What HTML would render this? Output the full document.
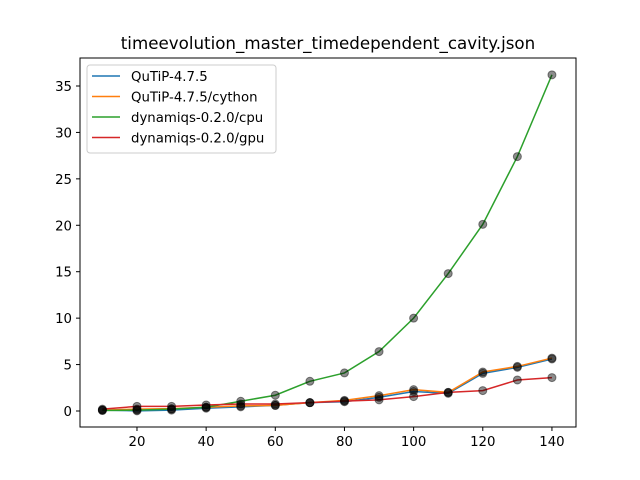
<!DOCTYPE html>
<html><head><meta charset="utf-8"><style>body{margin:0;background:#fff}svg{display:block;font-family:"DejaVu Sans","Liberation Sans",sans-serif}</style></head>
<body>
<svg id="chart" width="640" height="480">
<rect x="0" y="0" width="640" height="480" fill="#fff"/>
<text x="328" y="49" text-anchor="middle" font-size="16.7">timeevolution_master_timedependent_cavity.json</text>
<g id="plot"></g>
<rect x="80" y="58" width="496" height="369" fill="none" stroke="#000" stroke-width="1"/>
<g id="legend">
<rect x="87" y="65" width="189" height="88" rx="3" fill="#fff" fill-opacity="0.8" stroke="#ccc"/>
</g>
</svg>
<script>
const xs=[10,20,30,40,50,60,70,80,90,100,110,120,130,140];
const seriesNames=["QuTiP-4.7.5","QuTiP-4.7.5/cython","dynamiqs-0.2.0/cpu","dynamiqs-0.2.0/gpu"];
const colors=["#1f77b4","#ff7f0e","#2ca02c","#d62728"];
const qutip=[0.1,0.02,0.1,0.3,0.45,0.6,0.9,1.0,1.47,2.1,1.9,4.05,4.7,5.6];
const cython=[0.1,0.2,0.25,0.4,0.55,0.6,0.9,1.15,1.65,2.3,2.0,4.2,4.8,5.7];
const cpu=[0.05,0.1,0.2,0.4,1.05,1.7,3.2,4.1,6.4,10.0,14.8,20.1,27.4,36.2];
const gpu=[0.2,0.5,0.5,0.65,0.75,0.75,0.9,1.07,1.2,1.55,2.0,2.2,3.34,3.6];
const allSeries=[qutip,cython,cpu,gpu];
const xTicks=[20,40,60,80,100,120,140];
const yTicks=[0,5,10,15,20,25,30,35];
const NS="http://www.w3.org/2000/svg";
const X=v=>102.4+(v-10)*3.458;
const Y=v=>411-v*9.286;
const svg=document.getElementById('chart');
const plot=document.getElementById('plot');
function mk(tag,attrs,parent){const e=document.createElementNS(NS,tag);for(const k in attrs)e.setAttribute(k,attrs[k]);parent.appendChild(e);return e;}
xTicks.forEach(t=>{
 const l=mk('line',{x1:X(t),x2:X(t),y1:427,y2:431,stroke:'#000'},svg);
 
 
 const tx=mk('text',{x:X(t),y:446,'text-anchor':'middle','font-size':'13.3'},svg);tx.textContent=t;
 
 
});
yTicks.forEach(t=>{
 const l=mk('line',{x1:76,x2:80,y1:Y(t),y2:Y(t),stroke:'#000'},svg);
 
 
 const tx=mk('text',{x:72,y:Y(t)+5,'text-anchor':'end','font-size':'13.3'},svg);tx.textContent=t;
 
 
});
allSeries.forEach((s,i)=>{
 const p=mk('polyline',{points:s.map((v,j)=>X(xs[j])+','+Y(v)).join(' '),fill:'none',stroke:colors[i],'stroke-width':1.5},plot);
 
 
});
allSeries.forEach((s,i)=>{
 s.forEach((v,j)=>{
  const c=mk('circle',{cx:X(xs[j]),cy:Y(v),r:4,fill:'#000','fill-opacity':0.45,stroke:'#000','stroke-opacity':0.45},plot);
  
  
 });
});
const lg=document.getElementById('legend');
seriesNames.forEach((n,i)=>{
 const y=76+i*20.5;
 const l=mk('line',{x1:92,x2:120,y1:y,y2:y,stroke:colors[i],'stroke-width':1.5},lg);
 
 
 const t=mk('text',{x:131,y:y+5,'font-size':'13.3'},lg);t.textContent=n;
 
 
});
</script>
</body></html>
